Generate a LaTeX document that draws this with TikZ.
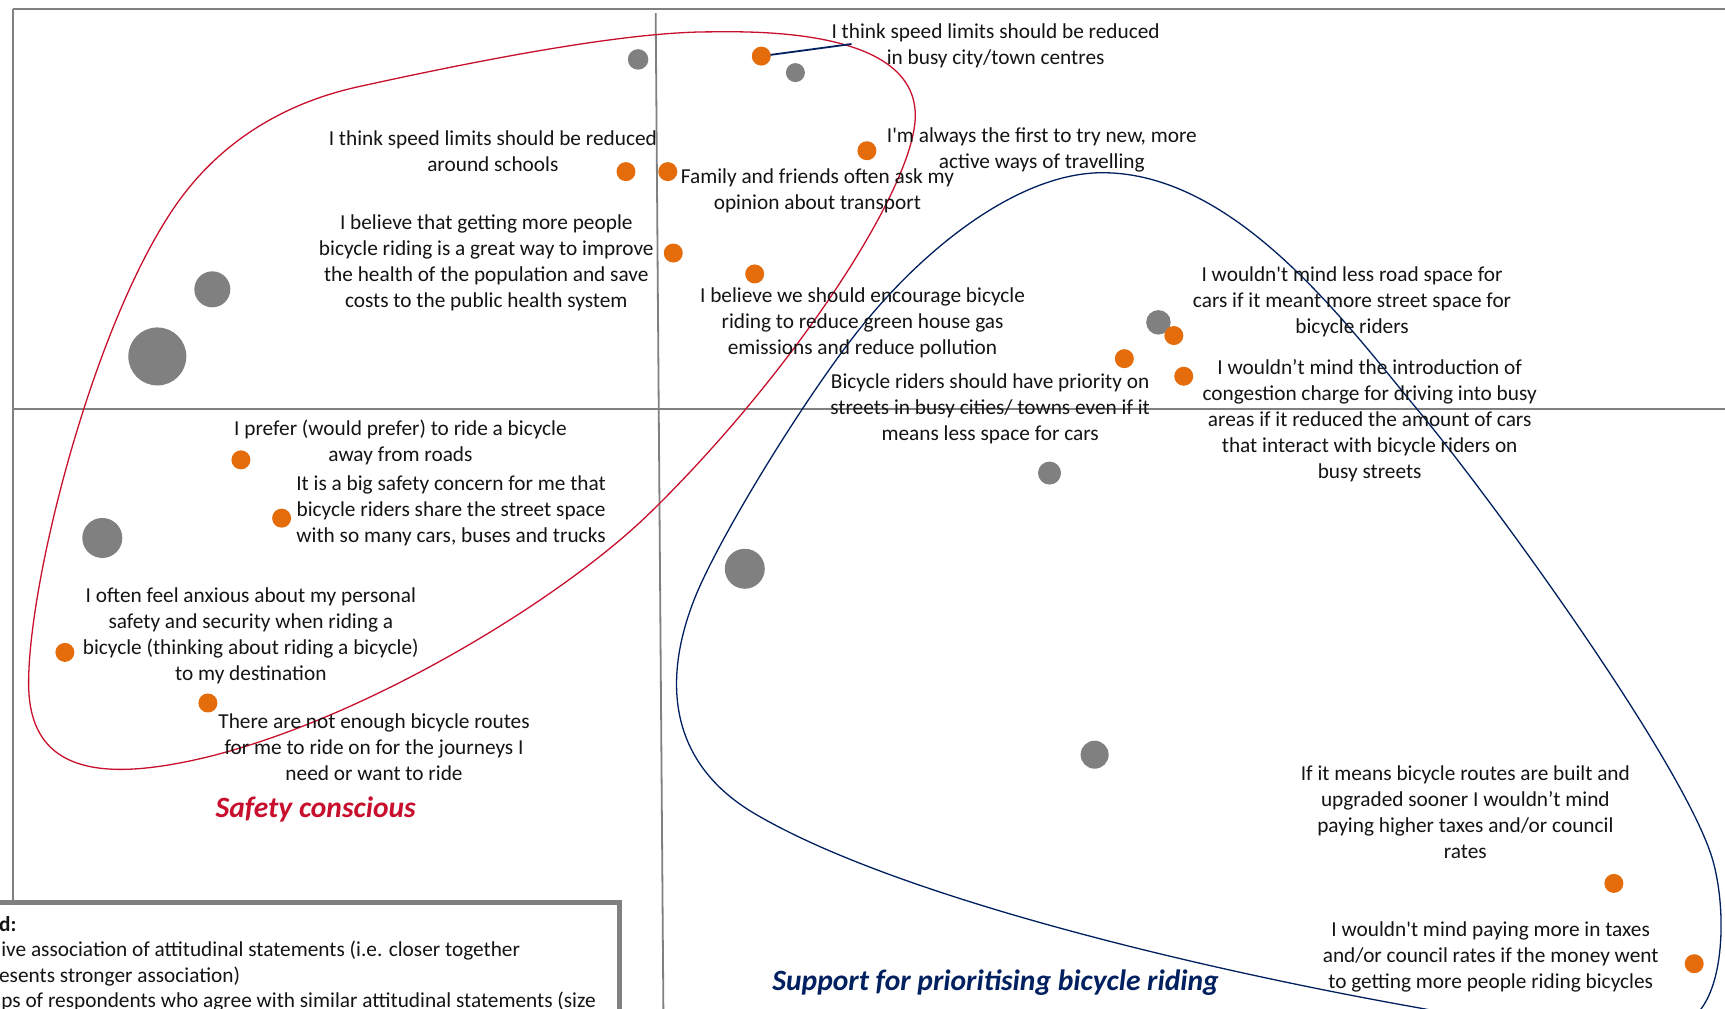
\documentclass[tikz,border=0pt]{standalone}
\usepackage{fontspec}
\setmainfont{Carlito}
\newfontfamily\calibri{Carlito}
\definecolor{dotgray}{RGB}{128,128,128}
\definecolor{dotorange}{RGB}{228,108,10}
\definecolor{safered}{RGB}{200,16,46}
\definecolor{navyblue}{RGB}{0,32,96}
\definecolor{framegray}{RGB}{128,128,128}
\definecolor{txt}{RGB}{20,20,20}
\tikzset{
  stmt/.style={font=\calibri\fontsize{21.3}{26}\selectfont, align=center, inner sep=0pt, text=txt},
  gdot/.style={circle, fill=dotgray, inner sep=0pt, minimum size=#1},
  odot/.style={circle, fill=dotorange, inner sep=0pt, minimum size=19pt},
  axisline/.style={draw=framegray, line width=1.8pt},
  clusterred/.style={draw=safered, line width=1.3pt},
  clusterblue/.style={draw=navyblue, line width=1.3pt},
  leg/.style={font=\calibri\fontsize{21.3}{26}\selectfont, inner sep=0pt, anchor=base west, text=txt},
  grouplabel/.style={font=\calibri\fontsize{29.5}{35}\selectfont\bfseries\itshape, inner sep=0pt}
}
\begin{document}
\begin{tikzpicture}[x=1.1pt,y=-1.1pt]
\useasboundingbox (0,0) rectangle (1568,917);
\clip (0,0) rectangle (1568,917);
\fill[white] (0,0) rectangle (1568,917);
% frame and axes
\draw[axisline] (12,8) -- (1568,8);
\draw[axisline] (12,8) -- (12,820);
\draw[axisline] (12,372) -- (1568,372);
\draw[axisline] (596,12) -- (603,917);
% legend box
\draw[draw=framegray, line width=5pt] (-20,820) rectangle (563,960);
\node[leg, font=\calibri\fontsize{21.3}{26}\selectfont\bfseries] (l0) at (-1,846.5) {d:};
\node[leg] (l1) at (1,869.5) {ive association of attitudinal statements (i.e. closer together};
\node[leg] (l2) at (-1,893) {esents stronger association)};
\node[leg] (l3) at (1,916) {ps of respondents who agree with similar attitudinal statements (size};
% clusters
\draw[clusterred] (640,29) .. controls (672,29) and (832,22) .. (832,105)
  .. controls (832,170) and (720,340) .. (591,466)
  .. controls (501,554) and (292,677) .. (142,697)
  .. controls (60,708) and (26,680) .. (26,621)
  .. controls (26,525) and (87,287) .. (163,182)
  .. controls (203,127) and (259.5,93.6) .. (325,79)
  .. controls (425,57) and (560,30) .. (640,29) -- cycle;
\draw[clusterblue] (1002,157) .. controls (930,157) and (846,219) .. (783,297)
  .. controls (733,359) and (653,489) .. (631,545)
  .. controls (602,619) and (608,693) .. (685,739)
  .. controls (814,815.5) and (1092,881) .. (1289,916)
  .. controls (1400,936) and (1512,965) .. (1547,916)
  .. controls (1570,884) and (1568,811) .. (1554,773)
  .. controls (1520,679) and (1353,450) .. (1289,373)
  .. controls (1225,296) and (1124,157) .. (1002,157) -- cycle;
% gray dots
\node[gdot=20.5pt] (g1) at (580,54) {};
\node[gdot=19pt] (g2) at (723,66) {};
\node[gdot=36pt] (g3) at (193,263) {};
\node[gdot=58pt] (g4) at (143,324) {};
\node[gdot=40pt] (g5) at (93,489) {};
\node[gdot=40pt] (g6) at (677,517) {};
\node[gdot=24.5pt] (g7) at (1053,293) {};
\node[gdot=23pt] (g8) at (954,430) {};
\node[gdot=28pt] (g9) at (995,686) {};
% orange dots
\coordinate (lk) at (774,40);
\draw[navyblue, line width=1.8pt] (692,51) -- (lk);
\node[odot] (o1) at (692,51) {};
\node[odot] (o2) at (569,156) {};
\node[odot] (o3) at (607,156) {};
\node[odot] (o4) at (788,137) {};
\node[odot] (o5) at (612,230) {};
\node[odot] (o6) at (686,249) {};
\node[odot] (o7) at (1067,305) {};
\node[odot] (o8) at (1022,326) {};
\node[odot] (o9) at (1076,342) {};
\node[odot] (o10) at (219,418) {};
\node[odot] (o11) at (256,471) {};
\node[odot] (o12) at (59,593) {};
\node[odot] (o13) at (189,639) {};
\node[odot] (o14) at (1467,803) {};
\node[odot] (o15) at (1540,876) {};
% statements
\node[stmt] (t1) at (905,41.5) {I think speed limits should be reduced\\in busy city/town centres};
\node[stmt] (t2) at (448,137) {I think speed limits should be reduced\\around schools};
\node[stmt] (t3) at (947,136) {I'm always the first to try new, more\\active ways of travelling};
\node[stmt] (t4) at (743,173.5) {Family and friends often ask my\\opinion about transport};
\node[stmt] (t5) at (442,239) {I believe that getting more people\\bicycle riding is a great way to improve\\the health of the population and save\\costs to the public health system};
\node[stmt] (t6) at (784,293.5) {I believe we should encourage bicycle\\riding to reduce green house gas\\emissions and reduce pollution};
\node[stmt] (t7) at (1229,274.5) {I wouldn't mind less road space for\\cars if it meant more street space for\\bicycle riders};
\node[stmt] (t8) at (1245,382.5) {I wouldn’t mind the introduction of\\congestion charge for driving into busy\\areas if it reduced the amount of cars\\that interact with bicycle riders on\\busy streets};
\node[stmt] (t9) at (900,371.5) {Bicycle riders should have priority on\\streets in busy cities/ towns even if it\\means less space for cars};
\node[stmt] (t10) at (364,402) {I prefer (would prefer) to ride a bicycle\\away from roads};
\node[stmt] (t11) at (410,464.5) {It is a big safety concern for me that\\bicycle riders share the street space\\with so many cars, buses and trucks};
\node[stmt] (t12) at (228,577.5) {I often feel anxious about my personal\\safety and security when riding a\\bicycle (thinking about riding a bicycle)\\to my destination};
\node[stmt] (t13) at (340,679) {There are not enough bicycle routes\\for me to ride on for the journeys I\\need or want to ride};
\node[stmt] (t14) at (1332,738.5) {If it means bicycle routes are built and\\upgraded sooner I wouldn’t mind\\paying higher taxes and/or council\\rates};
\node[stmt] (t15) at (1355,870) {I wouldn't mind paying more in taxes\\and/or council rates if the money went\\to getting more people riding bicycles};
% group labels
\node[grouplabel, text=safered] (safety) at (287,736) {Safety conscious};
\node[grouplabel, text=navyblue] (support) at (905,893) {Support for prioritising bicycle riding};
\end{tikzpicture}
\end{document}
